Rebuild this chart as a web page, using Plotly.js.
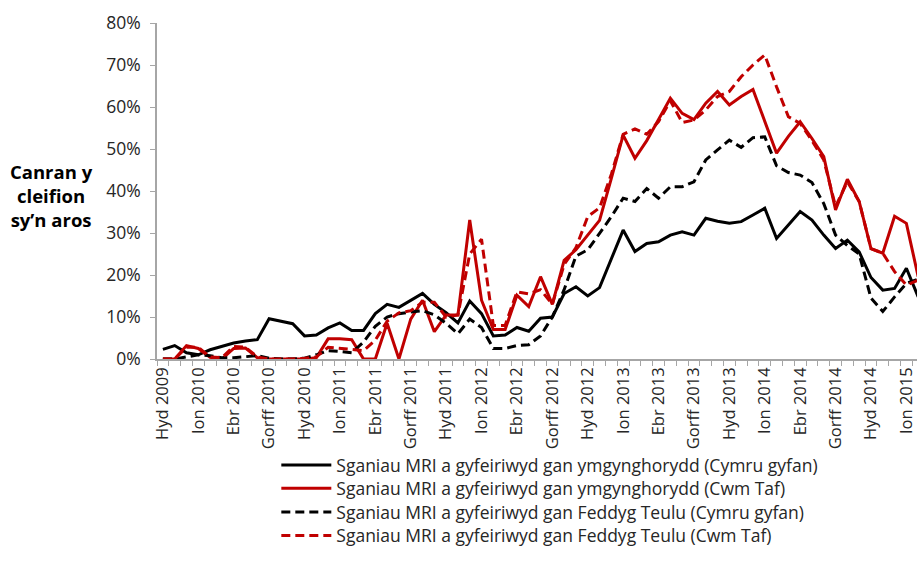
<!DOCTYPE html>
<html>
<head>
<meta charset="utf-8">
<script src="https://cdn.plot.ly/plotly-3.0.1.min.js"></script>
<style>html,body{margin:0;padding:0;background:#fff;}#chart{width:917px;height:569px;}</style>
</head>
<body>
<div id="chart"></div>
<script>
// Monthly categories, Hyd 2009 (Oct 2009) to Chwef 2015 (Feb 2015)
const months = [
  "Hyd 2009","Tach 2009","Rhag 2009",
  "Ion 2010","Chwef 2010","Maw 2010","Ebr 2010","Mai 2010","Meh 2010","Gorff 2010","Awst 2010","Medi 2010","Hyd 2010","Tach 2010","Rhag 2010",
  "Ion 2011","Chwef 2011","Maw 2011","Ebr 2011","Mai 2011","Meh 2011","Gorff 2011","Awst 2011","Medi 2011","Hyd 2011","Tach 2011","Rhag 2011",
  "Ion 2012","Chwef 2012","Maw 2012","Ebr 2012","Mai 2012","Meh 2012","Gorff 2012","Awst 2012","Medi 2012","Hyd 2012","Tach 2012","Rhag 2012",
  "Ion 2013","Chwef 2013","Maw 2013","Ebr 2013","Mai 2013","Meh 2013","Gorff 2013","Awst 2013","Medi 2013","Hyd 2013","Tach 2013","Rhag 2013",
  "Ion 2014","Chwef 2014","Maw 2014","Ebr 2014","Mai 2014","Meh 2014","Gorff 2014","Awst 2014","Medi 2014","Hyd 2014","Tach 2014","Rhag 2014",
  "Ion 2015","Chwef 2015"
];

// Tick labels shown on the axis (every third month)
const tickLabels = [
  "Hyd 2009","Ion 2010","Ebr 2010","Gorff 2010","Hyd 2010","Ion 2011","Ebr 2011","Gorff 2011",
  "Hyd 2011","Ion 2012","Ebr 2012","Gorff 2012","Hyd 2012","Ion 2013","Ebr 2013","Gorff 2013",
  "Hyd 2013","Ion 2014","Ebr 2014","Gorff 2014","Hyd 2014","Ion 2015"
];

// Percentage of patients waiting (values in %)
const consultantWales = [
  2.3,3.2,1.5,1.0,2.2,3.0,3.8,4.3,4.6,9.6,9.0,8.4,5.5,5.7,7.4,8.6,6.8,6.8,10.8,13.0,12.3,14.0,15.6,13.0,11.0,8.6,13.8,
  10.8,5.5,5.7,7.5,6.6,9.7,10.0,15.6,17.2,15.0,17.0,24.0,30.7,25.6,27.5,27.9,29.5,30.3,29.5,33.5,32.8,32.3,32.7,34.3,
  35.9,28.7,31.8,35.1,33.1,29.5,26.3,28.3,25.5,19.4,16.4,16.8,21.6,14.8
];
const consultantCwmTaf = [
  0,0,3.2,2.5,0.4,0,2.5,2.6,0.3,0,0,0,0,0.3,4.8,4.8,4.6,0,0,8.5,0,9.5,14.0,6.5,10.5,10.5,33.1,
  14.0,7.0,7.0,15.2,12.5,19.6,13.0,23.5,26.0,29.5,33.0,43.0,53.3,47.8,52.0,57.0,62.1,58.5,57.0,60.9,63.7,60.5,62.5,64.2,
  56.5,49.0,53.0,56.5,52.5,48.2,35.5,42.8,37.5,26.3,25.2,34.0,32.3,19.6
];
const gpWales = [
  0,0,0.5,1.0,0.8,0.3,0.3,0.6,0.8,0.2,0,0,0.2,1.0,2.0,1.8,1.5,4.0,7.8,10.0,10.8,11.2,11.5,10.5,8.5,6.0,9.5,
  7.5,2.5,2.5,3.2,3.4,5.5,10.0,16.5,24.5,26.0,29.9,33.9,38.3,37.5,40.6,38.3,41.0,41.0,42.2,47.4,49.8,52.1,50.4,52.7,
  52.9,46.0,44.4,43.8,42.0,37.0,29.5,27.0,25.0,14.5,11.3,14.8,18.0,19.0
];
const gpCwmTaf = [
  0,0,2.8,2.8,0.5,0.3,3.0,2.8,0.5,0,0,0,0.2,0.5,2.8,2.5,2.2,2.0,4.5,9.0,11.0,11.5,13.5,13.5,10.0,10.5,25.0,
  28.5,8.0,8.0,16.0,15.5,16.5,13.0,22.5,26.5,33.9,36.0,44.0,53.5,54.8,53.5,56.5,61.5,56.3,56.9,59.3,62.5,63.7,67.2,70.0,
  72.4,64.8,57.7,56.1,52.0,47.4,36.3,42.2,37.5,26.3,25.2,20.8,17.6,18.8
];

const seriesNames = [
  "Sganiau MRI a gyfeiriwyd gan ymgynghorydd (Cymru gyfan)",
  "Sganiau MRI a gyfeiriwyd gan ymgynghorydd (Cwm Taf)",
  "Sganiau MRI a gyfeiriwyd gan Feddyg Teulu (Cymru gyfan)",
  "Sganiau MRI a gyfeiriwyd gan Feddyg Teulu (Cwm Taf)"
];

const idx = months.map((m, i) => i);
const tickIdx = tickLabels.map(t => months.indexOf(t));
const pct = arr => arr.map(v => v / 100);

const BLACK = "#000000", RED = "#c00000", DASH = "9px,5px";
function tr(vals, name, color, dash, legendId) {
  return {
    x: idx, y: pct(vals), name: name, type: "scatter", mode: "lines",
    legend: legendId,
    text: months, hovertemplate: "%{text}: %{y:.1%}<extra></extra>",
    line: { color: color, width: 3, dash: dash }
  };
}

const data = [
  tr(consultantWales, seriesNames[0], BLACK, "solid", "legend"),
  tr(consultantCwmTaf, seriesNames[1], RED, "solid", "legend2"),
  tr(gpWales, seriesNames[2], BLACK, DASH, "legend3"),
  tr(gpCwmTaf, seriesNames[3], RED, DASH, "legend4")
];

const FONT = "'Open Sans', Lato, sans-serif";
function leg(yc) {
  return {
    x: 0.157, xanchor: "left", y: yc, yanchor: "middle", itemwidth: 50,
    font: { family: FONT, size: 17.5, color: "#262626" },
    bgcolor: "rgba(0,0,0,0)", borderwidth: 0
  };
}
const layout = {
  width: 917, height: 569,
  margin: { l: 157, r: 0, t: 23, b: 210 },
  paper_bgcolor: "#ffffff", plot_bgcolor: "#ffffff",
  font: { family: FONT, color: "#262626" },
  showlegend: true,
  legend: leg(-0.3155),
  legend2: leg(-0.3854),
  legend3: leg(-0.4554),
  legend4: leg(-0.5253),
  xaxis: {
    range: [-0.5, 63.9],
    tickmode: "array", tickvals: tickIdx, ticktext: tickLabels,
    tickangle: -90, ticks: "", showgrid: false, zeroline: false,
    showline: true, linecolor: "#a6a6a6", linewidth: 1.5,
    tickfont: { family: FONT, size: 16.5, color: "#262626" },
    minor: { ticks: "outside", tick0: -0.5, dtick: 1, ticklen: 5, tickcolor: "#a6a6a6", tickwidth: 1, showgrid: false }
  },
  yaxis: {
    range: [0, 0.8], dtick: 0.1, tick0: 0, tickformat: ".0%",
    ticks: "outside", ticklen: 5, tickcolor: "#a6a6a6", tickwidth: 1,
    ticklabelstandoff: 6,
    showgrid: false, zeroline: false,
    showline: true, linecolor: "#a6a6a6", linewidth: 1.5,
    tickfont: { family: FONT, size: 17.5, color: "#262626" }
  },
  annotations: [{
    text: "<b>Canran y<br>cleifion<br>sy’n aros</b>",
    xref: "paper", yref: "paper", x: -0.139, y: 0.488,
    xanchor: "center", yanchor: "middle", align: "center", showarrow: false,
    font: { family: FONT, size: 18.5, color: "#000000" }
  }]
};

Plotly.newPlot("chart", data, layout, { displayModeBar: false, responsive: false });
</script>
</body>
</html>
